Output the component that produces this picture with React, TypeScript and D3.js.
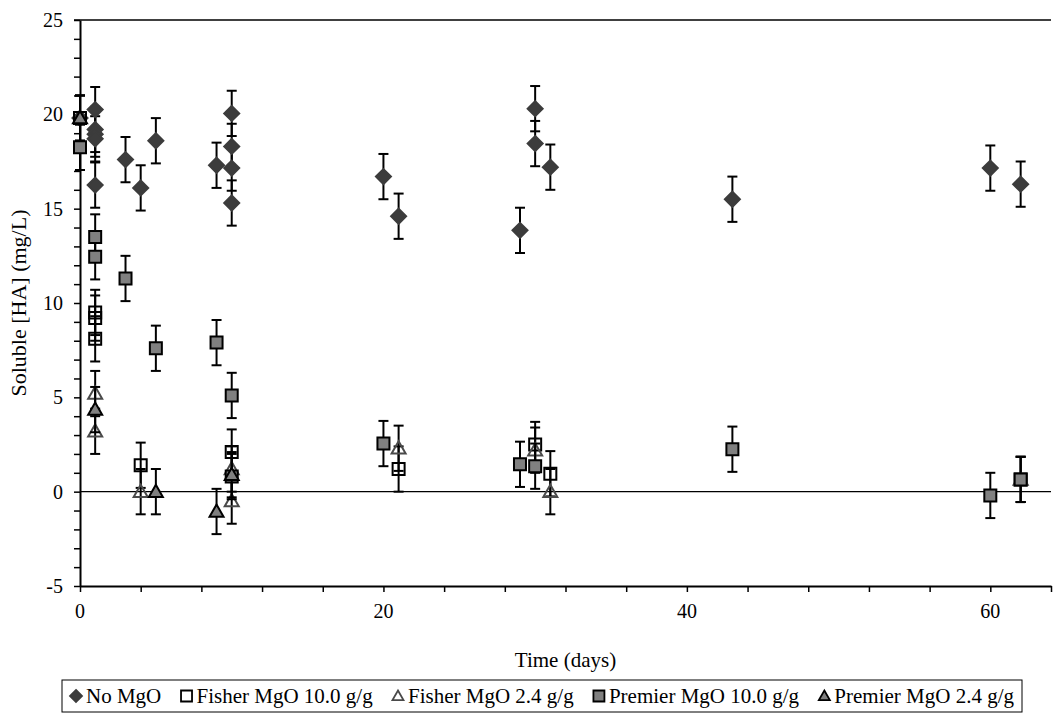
import React, { useEffect, useRef } from 'react';
import * as d3 from 'd3';

// [day, soluble HA mg/L] replicate points per treatment
const noMgO: [number, number][] = [
  [0, 19.8], [1, 20.25], [1, 19.2], [1, 18.95], [1, 18.7], [1, 16.25],
  [3, 17.6], [4, 16.1], [5, 18.6], [9, 17.3], [10, 20.05], [10, 18.3],
  [10, 17.15], [10, 15.3], [20, 16.7], [21, 14.6], [29, 13.85], [30, 20.3],
  [30, 18.45], [31, 17.2], [43, 15.5], [60, 17.15], [62, 16.3],
];
const fisher10: [number, number][] = [
  [0, 19.8], [1, 9.5], [1, 9.2], [1, 8.1], [4, 1.4], [10, 2.1],
  [21, 1.2], [30, 2.5], [31, 0.95], [62, 0.65],
];
const fisher24: [number, number][] = [
  [1, 5.2], [1, 3.2], [4, 0], [10, -0.5], [10, 1.2], [21, 2.3],
  [30, 2.2], [31, 0], [62, 0.65],
];
const premier10: [number, number][] = [
  [0, 18.25], [1, 13.5], [1, 12.45], [3, 11.3], [5, 7.6], [9, 7.9],
  [10, 5.1], [10, 0.8], [20, 2.55], [29, 1.45], [30, 1.35], [43, 2.25],
  [60, -0.2], [62, 0.65],
];
const premier24: [number, number][] = [
  [0, 19.8], [1, 4.35], [5, 0], [9, -1.05], [10, 0.9],
];
const errorSize = 1.2;

const xMajor = [0, 20, 40, 60];
const xMinor = d3.range(0, 65, 4);
const yMajor = [-5, 0, 5, 10, 15, 20, 25];
const yMinor = d3.range(-5, 26, 1);

const series = [
  { name: 'No MgO', data: noMgO, shape: 'diamond', fill: '#3c3c3c', stroke: '#3c3c3c' },
  { name: 'Fisher MgO 10.0 g/g', data: fisher10, shape: 'square', fill: 'none', stroke: '#000' },
  { name: 'Fisher MgO 2.4 g/g', data: fisher24, shape: 'triangle', fill: 'none', stroke: '#4a4a4a' },
  { name: 'Premier MgO 10.0 g/g', data: premier10, shape: 'square', fill: '#808080', stroke: '#000' },
  { name: 'Premier MgO 2.4 g/g', data: premier24, shape: 'triangle', fill: '#808080', stroke: '#000' },
];

const font = '"Liberation Serif", "Times New Roman", serif';

function markerPath(shape: string, r: number) {
  if (shape === 'diamond') return `M0,${-r}L${r},0L0,${r}L${-r},0Z`;
  if (shape === 'square') return `M${-r},${-r}H${r}V${r}H${-r}Z`;
  return `M0,${-r}L${r},${r * 0.75}L${-r},${r * 0.75}Z`;
}
const markerSize: Record<string, number> = { diamond: 7.5, square: 6, triangle: 7 };

export default function App() {
  const ref = useRef<SVGSVGElement>(null);

  useEffect(() => {
    const margin = { top: 20, right: 5, bottom: 131, left: 80 };
    const width = 1056;
    const height = 717;
    const svg = d3.select(ref.current);
    svg.selectAll('*').remove();

    const x = d3.scaleLinear().domain([0, 64]).range([margin.left, width - margin.right]);
    const y = d3.scaleLinear().domain([-5, 25]).range([height - margin.bottom, margin.top]);

    // top border
    svg.append('line')
      .attr('x1', x(0) - 6).attr('x2', x(64))
      .attr('y1', y(25)).attr('y2', y(25))
      .attr('stroke', '#000').attr('stroke-width', 1.5);

    // zero line
    svg.append('line')
      .attr('x1', x(0)).attr('x2', x(64))
      .attr('y1', y(0)).attr('y2', y(0))
      .attr('stroke', '#000').attr('stroke-width', 1.2);

    // x axis
    const xAxis = svg.append('g').attr('transform', `translate(0,${y(-5)})`);
    xAxis.call(d3.axisBottom(x).tickValues(xMinor).tickFormat(() => '').tickSize(6).tickSizeOuter(0));
    xAxis.select('.domain').attr('stroke-width', 2);
    xAxis.selectAll('.tick line').attr('stroke-width', 1.5);
    svg.append('g')
      .selectAll('text')
      .data(xMajor)
      .join('text')
      .attr('x', (d) => x(d))
      .attr('y', y(-5) + 32)
      .attr('text-anchor', 'middle')
      .attr('font-family', font)
      .attr('font-size', 20)
      .text((d) => d);

    // y axis
    const yAxis = svg.append('g').attr('transform', `translate(${x(0)},0)`);
    yAxis.call(d3.axisLeft(y).tickValues(yMinor).tickFormat(() => '').tickSize(6).tickSizeOuter(0));
    yAxis.select('.domain').attr('stroke-width', 2);
    yAxis.selectAll('.tick line').attr('stroke-width', 1.5);
    svg.append('g')
      .selectAll('text')
      .data(yMajor)
      .join('text')
      .attr('x', x(0) - 17)
      .attr('y', (d) => y(d) + 7)
      .attr('text-anchor', 'end')
      .attr('font-family', font)
      .attr('font-size', 20)
      .text((d) => d);

    svg.append('text')
      .attr('transform', `translate(26,${(y(25) + y(-5)) / 2}) rotate(-90)`)
      .attr('text-anchor', 'middle')
      .attr('font-family', font)
      .attr('font-size', 22)
      .text('Soluble [HA] (mg/L)');

    svg.append('text')
      .attr('x', (x(0) + x(64)) / 2)
      .attr('y', 667)
      .attr('text-anchor', 'middle')
      .attr('font-family', font)
      .attr('font-size', 21)
      .text('Time (days)');

    // series: error bars then markers
    const cap = 5;
    series.forEach((s) => {
      const g = svg.append('g');
      const bars = g.append('g').attr('stroke', '#000').attr('stroke-width', 2);
      s.data.forEach(([d, v]) => {
        const px = x(d);
        const top = y(v + errorSize);
        const bot = y(v - errorSize);
        bars.append('line').attr('x1', px).attr('x2', px).attr('y1', top).attr('y2', bot);
        bars.append('line').attr('x1', px - cap).attr('x2', px + cap).attr('y1', top).attr('y2', top);
        bars.append('line').attr('x1', px - cap).attr('x2', px + cap).attr('y1', bot).attr('y2', bot);
      });
      g.append('g')
        .selectAll('path')
        .data(s.data)
        .join('path')
        .attr('transform', ([d, v]) => `translate(${x(d)},${y(v)})`)
        .attr('d', markerPath(s.shape, markerSize[s.shape]))
        .attr('fill', s.fill)
        .attr('stroke', s.stroke)
        .attr('stroke-width', 2);
    });

    // legend
    const box = { x: 62, y: 680, w: 960, h: 32 };
    svg.append('rect')
      .attr('x', box.x).attr('y', box.y).attr('width', box.w).attr('height', box.h)
      .attr('fill', '#fff').attr('stroke', '#000').attr('stroke-width', 1);
    const lg = svg.append('g');
    const items = series.map((s) => {
      const it = lg.append('g');
      it.append('path')
        .attr('d', markerPath(s.shape, s.shape === 'diamond' ? 6 : 5.5))
        .attr('fill', s.fill === 'none' ? '#fff' : s.fill)
        .attr('stroke', s.stroke)
        .attr('stroke-width', 1.8);
      const t = it.append('text')
        .attr('x', 10)
        .attr('y', 7)
        .attr('font-family', font)
        .attr('font-size', 21)
        .text(s.name);
      const len = (t.node() as SVGTextElement).getComputedTextLength();
      return { it, w: 16 + len };
    });
    const total = d3.sum(items, (d) => d.w);
    const gap = (box.w - 16 - total) / (items.length - 1);
    let cx = box.x + 14;
    items.forEach((d) => {
      d.it.attr('transform', `translate(${cx},${box.y + box.h / 2})`);
      cx += d.w + gap;
    });
  }, []);

  return (
    <svg
      ref={ref}
      width={1056}
      height={717}
      style={{ position: 'absolute', left: 0, top: 0, background: '#fff' }}
    />
  );
}
